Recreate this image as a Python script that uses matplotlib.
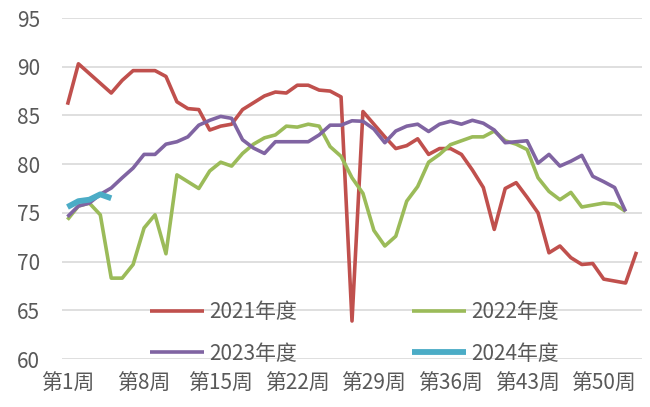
import numpy as np
import matplotlib.pyplot as plt

# Weekly index values by season
weeks = list(range(1, 54))
tick_weeks = [1, 8, 15, 22, 29, 36, 43, 50]

y2021 = [86.1, 90.3, 89.3, 88.3, 87.3, 88.6, 89.6, 89.6, 89.6, 89.0,
         86.4, 85.7, 85.6, 83.5, 83.9, 84.1, 85.6, 86.3, 87.0, 87.4,
         87.3, 88.1, 88.1, 87.6, 87.5, 86.9, 63.9, 85.4, 84.1, 82.8,
         81.6, 81.9, 82.6, 81.0, 81.6, 81.6, 81.0, 79.4, 77.6, 73.3,
         77.5, 78.1, 76.6, 75.0, 70.9, 71.6, 70.4, 69.7, 69.8, 68.2,
         68.0, 67.8, 71.0]
y2022 = [74.3, 75.7, 76.0, 74.8, 68.3, 68.3, 69.7, 73.45, 74.8, 70.8,
         78.9, 78.2, 77.5, 79.3, 80.2, 79.8, 81.1, 82.05, 82.7, 83.0,
         83.9, 83.8, 84.1, 83.9, 81.8, 80.8, 78.6, 77.0, 73.2, 71.6,
         72.6, 76.2, 77.7, 80.2, 81.0, 82.0, 82.4, 82.8, 82.8, 83.4,
         82.4, 82.05, 81.5, 78.6, 77.2, 76.35, 77.1, 75.6, 75.8, 76.0,
         75.9, 75.15]
y2023 = [74.6, 75.7, 76.0, 76.9, 77.55, 78.6, 79.6, 81.0, 81.0, 82.05,
         82.3, 82.8, 84.0, 84.5, 84.9, 84.7, 82.5, 81.65, 81.1, 82.3,
         82.3, 82.3, 82.3, 83.0, 84.0, 84.0, 84.45, 84.4, 83.6, 82.2,
         83.4, 83.9, 84.1, 83.35, 84.1, 84.4, 84.1, 84.5, 84.2, 83.5,
         82.2, 82.3, 82.4, 80.1, 81.0, 79.8, 80.3, 80.9, 78.75, 78.2,
         77.6, 75.15]
y2024 = [75.6, 76.2, 76.35, 76.9, 76.5]

plt.rcParams['font.family'] = ['Noto Sans CJK SC', 'DejaVu Sans']
text_color = '#595959'

fig = plt.figure(figsize=(6.5, 4.07), dpi=100)
ax = fig.add_axes([62 / 650, 1 - 359 / 407, 580 / 650, (359 - 18) / 407])

series = [
    (y2021, '2021年度', '#C0504D', 2.6),
    (y2022, '2022年度', '#9BBB59', 2.6),
    (y2023, '2023年度', '#8064A2', 2.6),
    (y2024, '2024年度', '#4BACC6', 4.2),
]
lines = []
for vals, label, color, lw in series:
    ln, = ax.plot(weeks[:len(vals)], vals, color=color, lw=lw, label=label,
                  solid_joinstyle='round', solid_capstyle='butt')
    lines.append(ln)

ax.set_xlim(0.5, 53.5)
ax.set_ylim(60, 95)
ax.set_yticks(np.arange(60, 96, 5))
ax.set_xticks(tick_weeks)
ax.set_xticklabels([f'第{w}周' for w in tick_weeks])

ax.grid(axis='y', color='#D9D9D9', lw=1.2)
ax.set_axisbelow(True)
for s in ax.spines.values():
    s.set_visible(False)
ax.tick_params(axis='both', length=0, labelsize=15, labelcolor=text_color)
ax.tick_params(axis='y', pad=16)
ax.tick_params(axis='x', pad=10)

# legend is filled row by row in the reference, so reorder for ncol=2
order = [0, 2, 1, 3]
fig.legend([lines[i] for i in order], [series[i][1] for i in order],
           loc='upper left', bbox_to_anchor=(150 / 650, 1 - 301 / 407),
           ncol=2, frameon=False, fontsize=15, labelcolor=text_color,
           handlelength=2.6, handletextpad=0.25, columnspacing=5.5,
           labelspacing=0.95, borderpad=0, borderaxespad=0)

fig.savefig('out.png', dpi=100)
